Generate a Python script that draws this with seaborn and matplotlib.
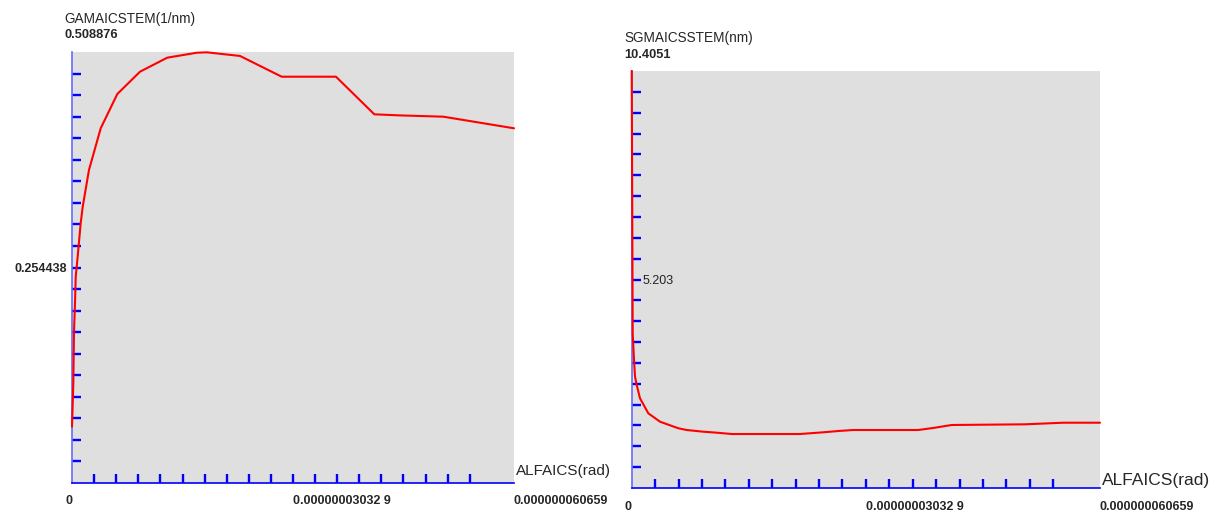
import matplotlib
matplotlib.use("Agg")
import matplotlib.pyplot as plt
import seaborn as sns
import pandas as pd

# ---------------- data ----------------
alfa_gama = [0.0, 1.8e-10, 2.7e-10, 4.1e-10, 5.1e-10, 6.5e-10, 8.6e-10, 1.19e-9,
             1.47e-9, 2.33e-9, 3.94e-9, 6.22e-9, 9.33e-9, 1.308e-8, 1.711e-8,
             1.849e-8, 2.306e-8, 2.878e-8, 3.623e-8, 4.149e-8, 4.478e-8,
             5.096e-8, 6.0659e-8]
gama_vals = [0.0665, 0.1177, 0.1768, 0.2122, 0.2436, 0.2554, 0.2751, 0.3066,
             0.3262, 0.3696, 0.4188, 0.4593, 0.4856, 0.5022, 0.5080, 0.5085,
             0.5042, 0.4797, 0.4797, 0.4353, 0.4341, 0.4325, 0.4188]

alfa_sgma = [0.0, 1.3e-10, 3.0e-10, 4.3e-10, 6.5e-10, 1.075e-9, 2.15e-9, 3.67e-9,
             6.04e-9, 7.12e-9, 9.27e-9, 1.101e-8, 1.295e-8, 2.18e-8, 2.482e-8,
             2.676e-8, 2.870e-8, 3.712e-8, 3.929e-8, 4.145e-8, 5.094e-8,
             5.590e-8, 6.0659e-8]
sgma_vals = [10.4051, 3.860, 3.194, 2.777, 2.570, 2.238, 1.864, 1.654, 1.490,
             1.447, 1.405, 1.380, 1.347, 1.347, 1.390, 1.422, 1.447, 1.447,
             1.505, 1.572, 1.589, 1.629, 1.629]

x_max = 6.0659e-8
gama_max = 0.508876
sgma_max = 10.4051
x_tick_labels = ["0", "0.00000003032 9", "0.000000060659"]
gama_title = "GAMAICSTEM(1/nm)"
sgma_title = "SGMAICSSTEM(nm)"
gama_mid_label = "0.254438"
sgma_mid_label = "5.203"
x_axis_title = "ALFAICS(rad)"

# ---------------- style ----------------
sns.set_style("white")
plt.rcParams["font.family"] = ["Liberation Sans", "DejaVu Sans"]

fig = plt.figure(figsize=(12.13, 5.14), dpi=100)
W, H = 1213, 514

def px_axes(left, top, right, bottom):
    return fig.add_axes([left / W, 1 - bottom / H, (right - left) / W, (bottom - top) / H])

ax1 = px_axes(72, 52, 514, 483)
ax2 = px_axes(631.7, 71, 1100, 488)

df1 = pd.DataFrame({"x": alfa_gama, "y": gama_vals})
df2 = pd.DataFrame({"x": alfa_sgma, "y": sgma_vals})

BLUE = "#0000ff"
for ax, df, ymax, title, top_lbl, mid_lbl, inside, xlab_pad, xlab_dy, xlab_size in [
        (ax1, df1, gama_max, gama_title, "0.508876", gama_mid_label, False, 9.0, 12, 11),
        (ax2, df2, sgma_max, sgma_title, "10.4051", sgma_mid_label, True, 9.5, 8, 12.5)]:
    ax.set_facecolor("#dfdfdf")
    sns.lineplot(data=df, x="x", y="y", ax=ax, color="#ff0000", linewidth=1.5,
                 estimator=None, sort=False)
    ax.lines[0].set_clip_on(False)
    ax.lines[0].set_zorder(5)
    ax.set_xlim(0, x_max)
    ax.set_ylim(0, ymax)
    ax.set_xlabel("")
    ax.set_ylabel("")
    for s in ["top", "right"]:
        ax.spines[s].set_visible(False)
    ax.spines["left"].set_color("#6a6aff")
    ax.spines["bottom"].set_color(BLUE)
    ax.spines["left"].set_linewidth(1.2)
    ax.spines["bottom"].set_linewidth(1.2)

    # minor ticks (the visible blue ticks)
    ax.xaxis.remove_overlapping_locs = False
    ax.yaxis.remove_overlapping_locs = False
    ax.set_xticks([x_max * k / 20 for k in range(1, 19)], minor=True)
    ax.set_yticks([ymax * k / 20 for k in range(1, 20)], minor=True)
    ax.tick_params(which="minor", direction="in", length=6.5, width=1.7, color=BLUE,
                   left=True, bottom=True)

    # major ticks carry labels only
    ax.set_xticks([0, x_max / 2, x_max], x_tick_labels)
    ax.tick_params(axis="x", which="major", length=0, pad=xlab_pad, labelsize=9)
    xl = ax.get_xticklabels()
    xl[0].set_ha("right")
    xl[1].set_ha("left")
    xl[2].set_ha("left")
    for t in xl:
        t.set_fontweight("bold")

    ax.set_yticks([ymax / 2], [mid_lbl])
    if inside:
        ax.tick_params(axis="y", which="major", length=0, pad=-7.5, labelsize=9)
        for t in ax.get_yticklabels():
            t.set_ha("left")
            t.set_color("#222222")
    else:
        ax.tick_params(axis="y", which="major", length=0, pad=3.5, labelsize=9)
        for t in ax.get_yticklabels():
            t.set_fontweight("bold")

    # titles above axes
    ax.annotate(title, xy=(0, 1), xycoords="axes fraction", xytext=(-7.5, 33),
                textcoords="offset pixels", ha="left", va="center", fontsize=9.8)
    ax.annotate(top_lbl, xy=(0, 1), xycoords="axes fraction", xytext=(-7.5, 16.5),
                textcoords="offset pixels", ha="left", va="center", fontsize=9.3,
                fontweight="bold")
    # x axis title at the right end
    ax.annotate(x_axis_title, xy=(1, 0), xycoords="axes fraction", xytext=(2, xlab_dy),
                textcoords="offset pixels", ha="left", va="center", fontsize=xlab_size,
                annotation_clip=False)

fig.savefig("out.png", dpi=100)
